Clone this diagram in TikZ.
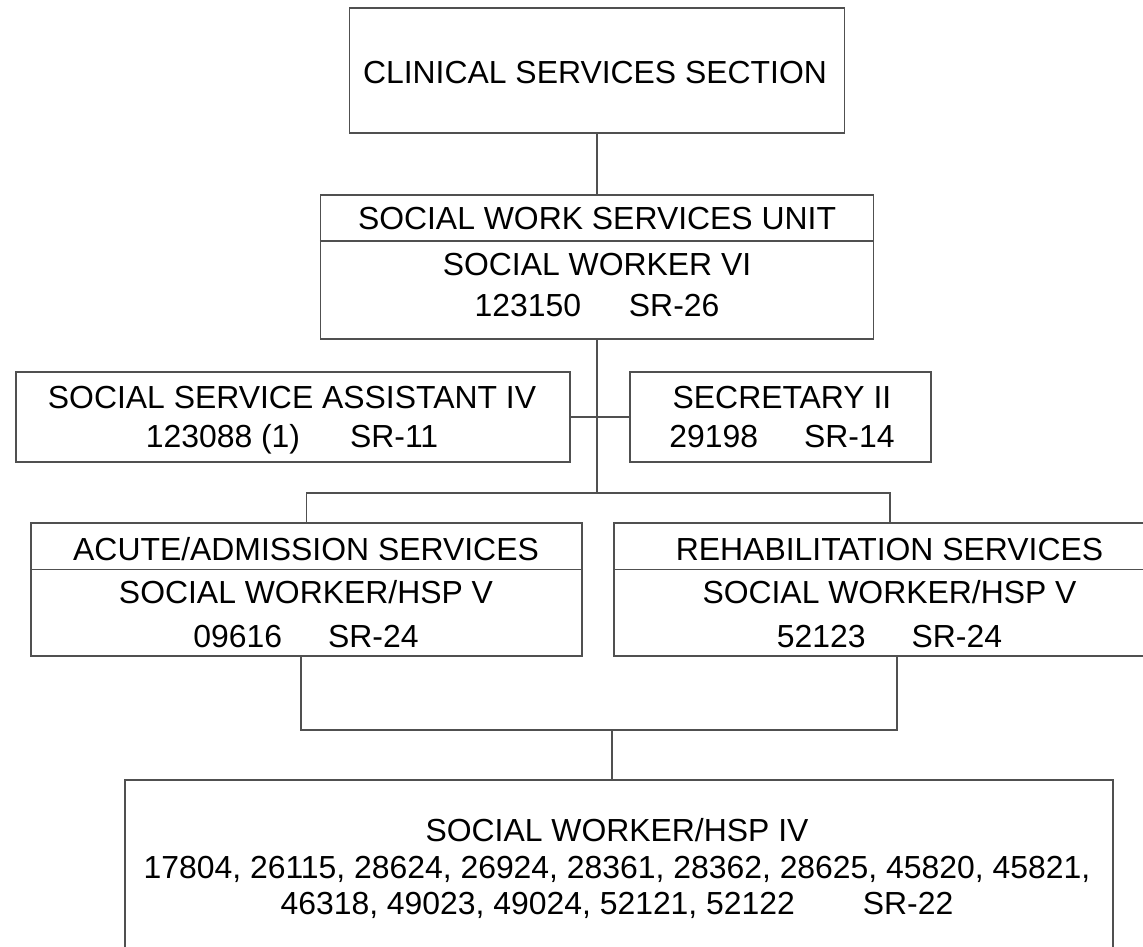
\documentclass[tikz,border=0pt]{standalone}
\usepackage{fontspec}
\setmainfont{Liberation Sans}
\usepackage{tikz}
\usetikzlibrary{positioning, calc}
\definecolor{rule}{RGB}{80,80,80}
\tikzset{
  box/.style={draw=rule, line width=1.2pt, rectangle, inner sep=0pt},
  lbl/.style={font=\fontsize{31.9}{38}\selectfont, text height=22.8pt, text depth=0pt, inner sep=0pt},
  link/.style={draw=rule, line width=1.2pt},
}

\begin{document}
\begin{tikzpicture}[x=1pt, y=-1pt]
  \clip (0,0) rectangle (1143,946);
  % Boxes
  \node[box, minimum width=495pt, minimum height=125pt] (clin) at (597, 70.5) {};
  \node[box, minimum width=553pt, minimum height=144pt] (unit) at (597, 267) {};
  \node[box, minimum width=554pt, minimum height=90pt] (ssa) at (293, 417) {};
  \node[box, minimum width=301pt, minimum height=90pt] (sec) at (780.5, 417) {};
  \node[box, minimum width=551pt, minimum height=133pt] (acute) at (306.5, 589.5) {};
  \node[box, minimum width=552pt, minimum height=133pt] (rehab) at (890, 589.5) {};
  \node[box, minimum width=988pt, minimum height=173pt] (staff) at (619, 866.5) {};
  % Dividers
  \draw[link] (unit.west |- 0,241) -- (unit.east |- 0,241);
  \draw[link] (acute.west |- 0,569.5) -- (acute.east |- 0,569.5);
  \draw[link] (rehab.west |- 0,569.5) -- (rehab.east |- 0,569.5);
  % Labels
  \node[lbl] (clin-t) at (595, 72) {CLINICAL SERVICES SECTION};
  \node[lbl] (unit-t1) at (597, 218) {SOCIAL WORK SERVICES UNIT};
  \node[lbl] (unit-t2) at (597, 264.5) {SOCIAL WORKER VI};
  \node[lbl] (unit-t3) at (597, 305) {123150\hspace{48pt}SR-26};
  \node[lbl] (ssa-t1) at (292, 397) {SOCIAL SERVICE ASSISTANT IV};
  \node[lbl] (ssa-t2) at (292, 436.5) {123088 (1)\hspace{50pt}SR-11};
  \node[lbl] (sec-t1) at (782, 397) {SECRETARY II};
  \node[lbl] (sec-t2) at (782, 436.5) {29198\hspace{46pt}SR-14};
  \node[lbl] (acute-t1) at (306, 549.5) {ACUTE/ADMISSION SERVICES};
  \node[lbl] (acute-t2) at (306, 592) {SOCIAL WORKER/HSP V};
  \node[lbl] (acute-t3) at (306, 636.5) {09616\hspace{46pt}SR-24};
  \node[lbl] (rehab-t1) at (889.5, 549.5) {REHABILITATION SERVICES};
  \node[lbl] (rehab-t2) at (889.5, 592) {SOCIAL WORKER/HSP V};
  \node[lbl] (rehab-t3) at (889.5, 636.5) {52123\hspace{46pt}SR-24};
  \node[lbl] (staff-t1) at (617, 830) {SOCIAL WORKER/HSP IV};
  \node[lbl] (staff-t2) at (617, 867) {17804, 26115, 28624, 26924, 28361, 28362, 28625, 45820, 45821,};
  \node[lbl] (staff-t3) at (617, 903.5) {46318, 49023, 49024, 52121, 52122\hspace{68pt}SR-22};
  % Connectors
  \coordinate (jmid) at (597, 493);
  \coordinate (ja) at (301, 730);
  \coordinate (jr) at (897, 730);
  \coordinate (jm) at (612, 730);
  \draw[link] (clin.south) -- (unit.north);
  \draw[link] (unit.south) -- (jmid);
  \draw[link] (ssa.east) -- (sec.west);
  \draw[link] (acute.north) |- (jmid) -| (rehab.north);
  \draw[link] (ja |- acute.south) -- (ja) -- (jr) -- (jr |- rehab.south);
  \draw[link] (jm) -- (jm |- staff.north);
\end{tikzpicture}
\end{document}
